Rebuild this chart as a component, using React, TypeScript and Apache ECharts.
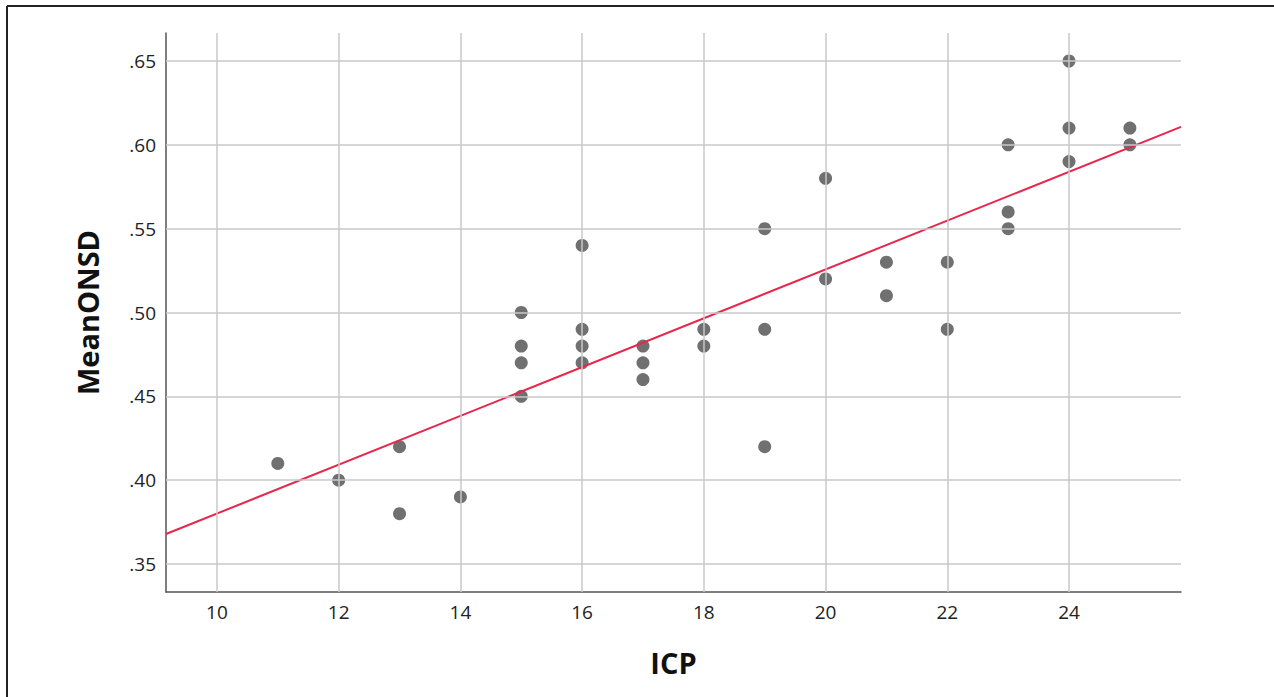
import React, { useEffect, useRef } from "react";
import * as echarts from "echarts";

const icp = [11, 12, 13, 13, 14, 15, 15, 15, 15, 16, 16, 16, 16, 17, 17, 17, 18, 18, 19, 19, 19, 20, 20, 21, 21, 22, 22, 23, 23, 23, 24, 24, 24, 25, 25];
const meanOnsd = [0.41, 0.40, 0.42, 0.38, 0.39, 0.50, 0.48, 0.47, 0.45, 0.54, 0.49, 0.48, 0.47, 0.48, 0.47, 0.46, 0.49, 0.48, 0.55, 0.49, 0.42, 0.58, 0.52, 0.53, 0.51, 0.53, 0.49, 0.60, 0.56, 0.55, 0.65, 0.61, 0.59, 0.61, 0.60];
const xTicks = [10, 12, 14, 16, 18, 20, 22, 24];
const yTicks = [0.35, 0.40, 0.45, 0.50, 0.55, 0.60, 0.65];
const xRange = [9.163, 25.84];
const yRange = [0.3333, 0.6667];
const fitLine = [[9.163, 0.3679], [25.84, 0.6107]];

export default function App() {
  const ref = useRef<HTMLDivElement>(null);
  useEffect(() => {
    document.body.style.margin = "0";
    const chart = echarts.init(ref.current!, null, { renderer: "svg" });
    const points = icp.map((x, i) => [x, meanOnsd[i]]);
    chart.setOption({
      animation: false,
      backgroundColor: "#ffffff",
      grid: { left: 166, top: 33, width: 1015, height: 559, containLabel: false },
      graphic: [
        { type: "line", shape: { x1: 7, y1: 6, x2: 1274, y2: 6 }, style: { stroke: "#222", lineWidth: 2 } },
        { type: "line", shape: { x1: 7, y1: 6, x2: 7, y2: 697 }, style: { stroke: "#222", lineWidth: 2 } },
      ],
      xAxis: {
        type: "value",
        min: xRange[0],
        max: xRange[1],
        name: "ICP",
        nameLocation: "middle",
        nameGap: 56,
        nameTextStyle: { fontFamily: "Open Sans", fontSize: 29, fontWeight: "bold", color: "#111" },
        axisLine: { show: true, lineStyle: { color: "#555", width: 1.5 } },
        axisTick: { show: false },
        splitLine: { show: false },
        axisLabel: {
          customValues: xTicks,
          margin: 10,
          fontFamily: "Open Sans",
          fontSize: 19,
          color: "#222",
          formatter: (v: number) => String(Math.round(v)),
        },
      },
      yAxis: {
        type: "value",
        min: yRange[0],
        max: yRange[1],
        name: "MeanONSD",
        nameLocation: "middle",
        nameGap: 64,
        nameTextStyle: { fontFamily: "Open Sans", fontSize: 29, fontWeight: "bold", color: "#111" },
        axisLine: { show: true, lineStyle: { color: "#555", width: 1.5 } },
        axisTick: { show: false },
        splitLine: { show: false },
        axisLabel: {
          customValues: yTicks,
          margin: 10,
          fontFamily: "Open Sans",
          fontSize: 19,
          color: "#222",
          formatter: (v: number) => v.toFixed(2).replace(/^0/, ""),
        },
      },
      series: [
        {
          type: "line",
          data: [],
          z: 1,
          silent: true,
          markLine: {
            silent: true,
            symbol: ["none", "none"],
            label: { show: false },
            lineStyle: { color: "#c8c8c8", width: 1.5, type: "solid" },
            data: [
              ...xTicks.map((v) => ({ xAxis: v })),
              ...yTicks.map((v) => ({ yAxis: v })),
            ],
          },
        },
        {
          type: "scatter",
          data: points,
          symbolSize: 13,
          z: 2,
          itemStyle: { color: "#707070", opacity: 1 },
        },
        {
          type: "line",
          data: fitLine,
          z: 3,
          symbol: "none",
          lineStyle: { color: "#e8264c", width: 2 },
        },
      ],
    });
    return () => chart.dispose();
  }, []);
  return <div ref={ref} style={{ width: 1274, height: 697 }} />;
}
